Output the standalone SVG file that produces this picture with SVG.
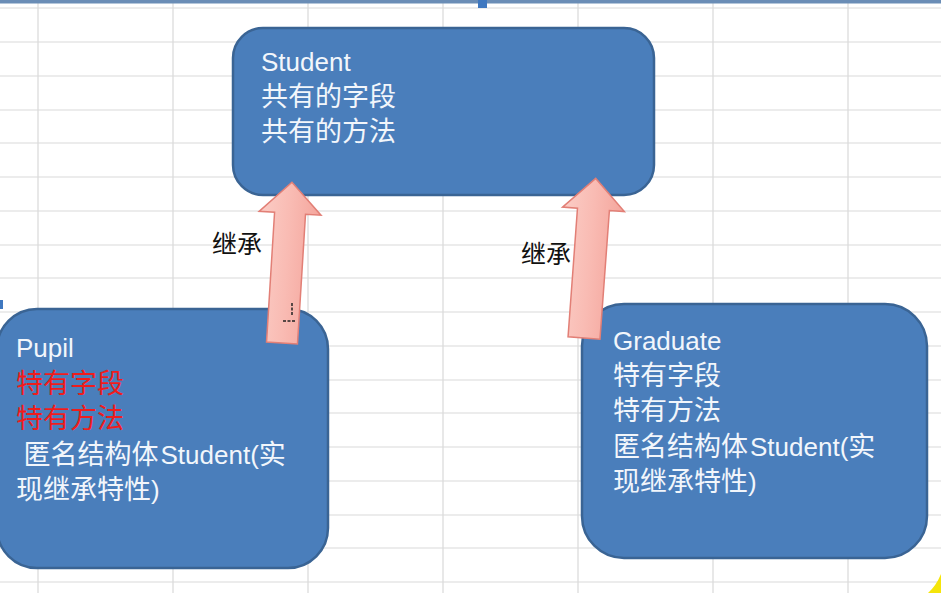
<svg xmlns="http://www.w3.org/2000/svg" width="941" height="593" viewBox="0 0 941 593">
  <style>
    .grid line { stroke: #d9d9d9; stroke-width: 1.2; }
    .box { fill: #4a7ebb; stroke: #3a6494; stroke-width: 2.5; }
    .t { font-family: "Liberation Sans", "Noto Sans CJK SC", sans-serif; font-size: 27px; fill: #f2f6fb; }
    .l { font-size: 26px; }
    .red { fill: #f01c1c; }
    .lbl { font-family: "Liberation Sans", "Noto Sans CJK SC", sans-serif; font-size: 25px; fill: #111111; }
    .arrow { fill: url(#pink); stroke: #e27f76; stroke-width: 1.5; stroke-linejoin: miter; }
  </style>
  <defs>
    <linearGradient id="pink" x1="0" y1="0" x2="1" y2="0">
      <stop offset="0" stop-color="#fbcdc6"/>
      <stop offset="0.5" stop-color="#f9bbb3"/>
      <stop offset="1" stop-color="#f4a59c"/>
    </linearGradient>
  </defs>
  <rect x="0" y="0" width="941" height="593" fill="#ffffff"/>
  <g class="grid">
    <line x1="38" y1="0" x2="38" y2="593"/>
    <line x1="173" y1="0" x2="173" y2="593"/>
    <line x1="308" y1="0" x2="308" y2="593"/>
    <line x1="443" y1="0" x2="443" y2="593"/>
    <line x1="578" y1="0" x2="578" y2="593"/>
    <line x1="713" y1="0" x2="713" y2="593"/>
    <line x1="848" y1="0" x2="848" y2="593"/>
    <line x1="0" y1="8" x2="941" y2="8"/>
    <line x1="0" y1="42" x2="941" y2="42"/>
    <line x1="0" y1="76" x2="941" y2="76"/>
    <line x1="0" y1="110" x2="941" y2="110"/>
    <line x1="0" y1="143" x2="941" y2="143"/>
    <line x1="0" y1="177" x2="941" y2="177"/>
    <line x1="0" y1="211" x2="941" y2="211"/>
    <line x1="0" y1="245" x2="941" y2="245"/>
    <line x1="0" y1="278" x2="941" y2="278"/>
    <line x1="0" y1="312" x2="941" y2="312"/>
    <line x1="0" y1="346" x2="941" y2="346"/>
    <line x1="0" y1="380" x2="941" y2="380"/>
    <line x1="0" y1="413" x2="941" y2="413"/>
    <line x1="0" y1="447" x2="941" y2="447"/>
    <line x1="0" y1="481" x2="941" y2="481"/>
    <line x1="0" y1="515" x2="941" y2="515"/>
    <line x1="0" y1="548" x2="941" y2="548"/>
    <line x1="0" y1="582" x2="941" y2="582"/>
  </g>
  <rect x="0" y="0" width="941" height="3.5" fill="#6a8db6"/>
  <rect x="478" y="0" width="9" height="8" fill="#3f78c0"/>
  <rect x="0" y="300" width="3" height="9" fill="#3f78c0"/>
  <path d="M941,574 Q936,586 928,593 L941,593 Z" fill="#f5e50a"/>

  <g id="student">
    <rect class="box" x="233" y="28" width="421" height="167" rx="30" ry="30"/>
    <text class="t" x="261" y="71"><tspan class="l">Student</tspan></text>
    <text class="t" x="261" y="106">共有的字段</text>
    <text class="t" x="261" y="141">共有的方法</text>
  </g>
  <g id="pupil">
    <rect class="box" x="-3" y="309" width="331" height="259" rx="40" ry="40"/>
    <text class="t" x="16" y="357"><tspan class="l">Pupil</tspan></text>
    <text class="t red" x="16" y="393">特有字段</text>
    <text class="t red" x="16" y="428">特有方法</text>
    <text class="t" x="16" y="464" xml:space="preserve"> 匿名结构体<tspan class="l" dx="2">Student(</tspan>实</text>
    <text class="t" x="16" y="499">现继承特性<tspan class="l">)</tspan></text>
  </g>
  <g id="graduate">
    <rect class="box" x="582" y="304" width="345" height="254" rx="42" ry="42"/>
    <text class="t" x="613" y="350"><tspan class="l">Graduate</tspan></text>
    <text class="t" x="613" y="385">特有字段</text>
    <text class="t" x="613" y="420">特有方法</text>
    <text class="t" x="613" y="456">匿名结构体<tspan class="l" dx="2">Student(</tspan>实</text>
    <text class="t" x="613" y="491">现继承特性<tspan class="l">)</tspan></text>
  </g>

  <g id="connectors">
    <polygon class="arrow" transform="translate(282,343) rotate(3.55)" points="-15.5,0 -15.5,-130 -31,-130 0,-161 31,-130 15.5,-130 15.5,0"/>
    <polygon class="arrow" transform="translate(584,338) rotate(4.2)" points="-16,0 -16,-129 -31,-129 0,-160 31,-129 16,-129 16,0"/>
    <path d="M292,303 v12 M283,321 h13" stroke="#222" stroke-width="1.5" fill="none" stroke-dasharray="3 1.5"/>
    <text class="lbl" x="212" y="253">继承</text>
    <text class="lbl" x="521" y="263">继承</text>
  </g>
</svg>
